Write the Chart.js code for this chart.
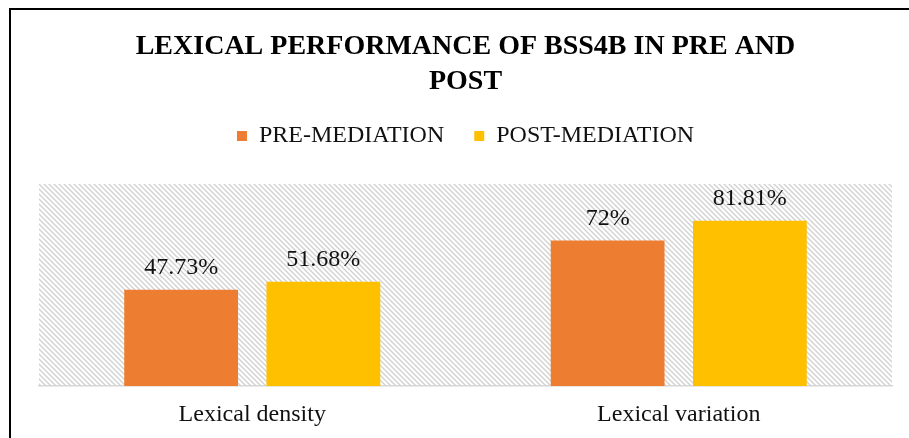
<!DOCTYPE html>
<html>
<head>
<meta charset="utf-8">
<script src="https://cdn.jsdelivr.net/npm/chart.js@4/dist/chart.umd.min.js"></script>
<style>
  body { margin: 0; background: #fff; }
  #wrap { width: 909px; height: 438px; }
</style>
</head>
<body>
<div id="wrap"><canvas id="myChart" width="909" height="438"></canvas></div>
<script>
// data
const categories = ['Lexical density', 'Lexical variation'];
const preMediation = [47.73, 72];
const postMediation = [51.68, 81.81];
const seriesNames = ['PRE-MEDIATION', 'POST-MEDIATION'];
const titleLines = ['LEXICAL PERFORMANCE OF BSS4B IN PRE AND', 'POST'];

const serif = "'Liberation Serif', 'Times New Roman', serif";

// diagonal hatch for plot background
function makeHatch() {
  const c = document.createElement('canvas');
  c.width = 5; c.height = 5;
  const g = c.getContext('2d');
  g.strokeStyle = '#d2d2d2';
  g.lineWidth = 1.4;
  g.beginPath();
  g.moveTo(-1, -1); g.lineTo(6, 6);
  g.moveTo(-1, 4); g.lineTo(1, 6);
  g.moveTo(4, -1); g.lineTo(6, 1);
  g.stroke();
  return g.createPattern(c, 'repeat');
}

const hatchBg = {
  id: 'hatchBg',
  beforeDatasetsDraw(chart) {
    const { ctx, chartArea: a } = chart;
    ctx.save();
    ctx.fillStyle = makeHatch();
    ctx.fillRect(a.left, a.top, a.right - a.left, a.bottom - a.top);
    ctx.restore();
  }
};

// extra room under the legend
const legendGap = {
  id: 'legendGap',
  beforeInit(chart) {
    const orig = chart.legend.fit;
    chart.legend.fit = function() {
      orig.call(this);
      this.height += 26;
    };
  }
};

const valueLabels = {
  id: 'valueLabels',
  afterDatasetsDraw(chart) {
    const ctx = chart.ctx;
    ctx.save();
    ctx.font = '24px ' + serif;
    ctx.fillStyle = '#111';
    ctx.textAlign = 'center';
    ctx.textBaseline = 'alphabetic';
    chart.data.datasets.forEach((ds, i) => {
      chart.getDatasetMeta(i).data.forEach((bar, j) => {
        ctx.fillText(ds.data[j] + '%', bar.x, bar.y - 16);
      });
    });
    ctx.restore();
  }
};

const frame = {
  id: 'frame',
  afterDraw(chart) {
    const ctx = chart.ctx;
    ctx.save();
    ctx.strokeStyle = '#000';
    ctx.lineWidth = 2;
    ctx.strokeRect(10, 9, chart.width + 20, chart.height + 20);
    ctx.restore();
  }
};

const ctx = document.getElementById('myChart');
new Chart(ctx, {
  type: 'bar',
  data: {
    labels: categories,
    datasets: [{
      label: seriesNames[0],
      data: preMediation,
      backgroundColor: '#ED7D31'
    }, {
      label: seriesNames[1],
      data: postMediation,
      backgroundColor: '#FFC000'
    }]
  },
  options: {
    responsive: false,
    animation: false,
    categoryPercentage: 0.667,
    barPercentage: 0.8,
    layout: { padding: { left: 39, right: 17, top: 19, bottom: 3 } },
    plugins: {
      title: {
        display: true,
        text: titleLines,
        color: '#000',
        font: { family: serif, size: 28, weight: 'bold', lineHeight: 1.25 },
        padding: { top: 10, bottom: -5 }
      },
      legend: {
        position: 'top',
        labels: {
          color: '#111',
          font: { family: serif, size: 24 },
          boxWidth: 10,
          boxHeight: 10,
          padding: 30
        }
      },
      tooltip: { enabled: false }
    },
    scales: {
      x: {
        grid: { display: false },
        border: { display: true, color: '#d9d9d9', width: 1.5 },
        ticks: { color: '#111', font: { family: serif, size: 24 }, padding: 6 }
      },
      y: {
        display: false,
        min: 0,
        max: 100
      }
    }
  },
  plugins: [legendGap, hatchBg, valueLabels, frame]
});
</script>
</body>
</html>
